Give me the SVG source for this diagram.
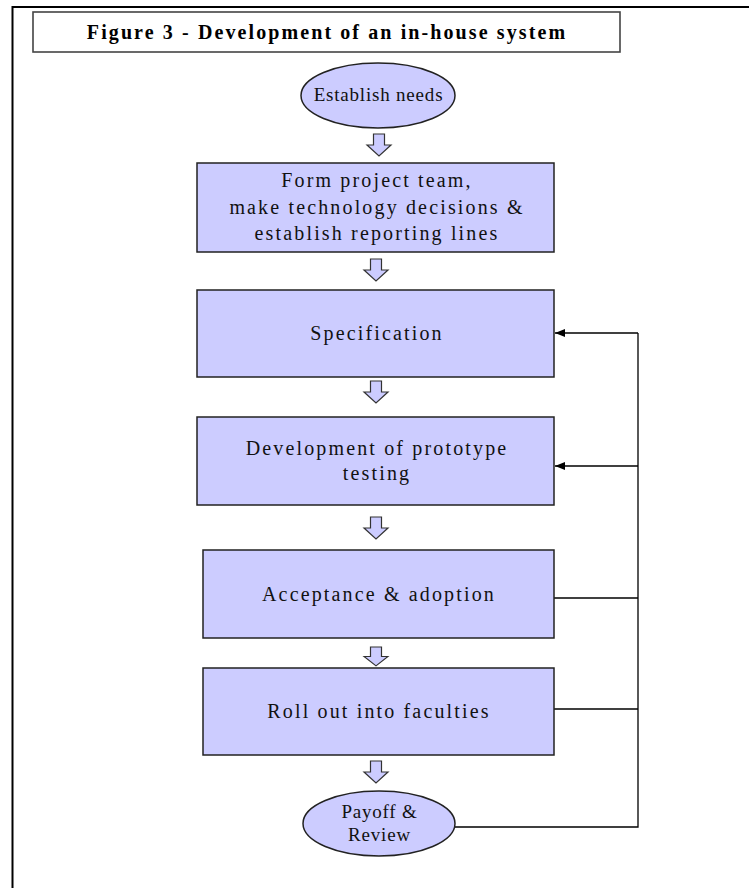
<svg xmlns="http://www.w3.org/2000/svg" width="749" height="888" viewBox="0 0 749 888">
  <style>
    .frame { stroke: #000; stroke-width: 2; fill: none; }
    .title-box { fill: #fff; stroke: #444; stroke-width: 1.6; }
    .title { font-family: "Liberation Serif", "Times New Roman", serif; font-weight: bold; font-size: 20px; letter-spacing: 2.1px; fill: #000; }
    .node { fill: #ccccff; stroke: #222; stroke-width: 1.5; }
    .label { font-family: "Liberation Serif", "Times New Roman", serif; font-size: 20px; letter-spacing: 2.15px; fill: #111; text-anchor: middle; }
    .oval-label { font-family: "Liberation Serif", "Times New Roman", serif; font-size: 19px; letter-spacing: 0.8px; fill: #111; text-anchor: middle; }
    .step { fill: #ccccff; stroke: #333; stroke-width: 1.2; }
    .loop { fill: none; stroke: #000; stroke-width: 1.3; }
  </style>
  <defs>
    <!-- hollow downward block arrow, 22 units tall, centred on x=0 -->
    <path id="down" d="M-5.5,0 H5.5 V11 H12 L0,22 L-12,11 H-5.5 Z"/>
    <marker id="head" markerWidth="10" markerHeight="8" refX="10" refY="4" orient="auto" markerUnits="userSpaceOnUse">
      <path d="M0,0 L10,4 L0,8 Z" fill="#000"/>
    </marker>
  </defs>

  <!-- page frame -->
  <path class="frame" d="M12.5,888 V7 H749"/>

  <!-- heading -->
  <g id="heading">
    <rect class="title-box" x="33" y="12" width="587" height="40"/>
    <text class="title" x="327" y="39" text-anchor="middle">Figure 3 - Development of an in-house system</text>
  </g>

  <!-- connectors -->
  <g id="connectors">
    <use href="#down" class="step" x="379" y="134"/>
    <use href="#down" class="step" x="376" y="259"/>
    <use href="#down" class="step" x="376" y="381"/>
    <use href="#down" class="step" x="376" y="517"/>
    <use href="#down" class="step" transform="translate(376,647) scale(1,0.86)"/>
    <use href="#down" class="step" x="376" y="761"/>

    <!-- feedback loop back to earlier stages -->
    <path class="loop" d="M455,827 H638 V333"/>
    <path class="loop" d="M638,333 H555" marker-end="url(#head)"/>
    <path class="loop" d="M638,466 H555" marker-end="url(#head)"/>
    <path class="loop" d="M554,598 H638"/>
    <path class="loop" d="M554,709 H638"/>
  </g>

  <g id="establish-needs">
    <ellipse class="node" cx="378" cy="95.5" rx="77" ry="32.5"/>
    <text class="oval-label" x="378.5" y="101">Establish needs</text>
  </g>

  <g id="form-team">
    <rect class="node" x="197" y="163" width="357" height="89"/>
    <text class="label" x="377" y="187">Form project team,</text>
    <text class="label" x="377" y="214">make technology decisions &amp;</text>
    <text class="label" x="377" y="240">establish reporting lines</text>
  </g>

  <g id="specification">
    <rect class="node" x="197" y="290" width="357" height="87"/>
    <text class="label" x="377" y="340">Specification</text>
  </g>

  <g id="prototype">
    <rect class="node" x="197" y="417" width="357" height="88"/>
    <text class="label" x="377" y="455">Development of prototype</text>
    <text class="label" x="377" y="480">testing</text>
  </g>

  <g id="acceptance">
    <rect class="node" x="203" y="550" width="351" height="88"/>
    <text class="label" x="379" y="601">Acceptance &amp; adoption</text>
  </g>

  <g id="roll-out">
    <rect class="node" x="203" y="668" width="351" height="87"/>
    <text class="label" x="379" y="718">Roll out into faculties</text>
  </g>

  <g id="payoff-review">
    <ellipse class="node" cx="379" cy="823.5" rx="76" ry="32.5"/>
    <text class="oval-label" x="379.5" y="818">Payoff &amp;</text>
    <text class="oval-label" x="379.5" y="841">Review</text>
  </g>
</svg>
